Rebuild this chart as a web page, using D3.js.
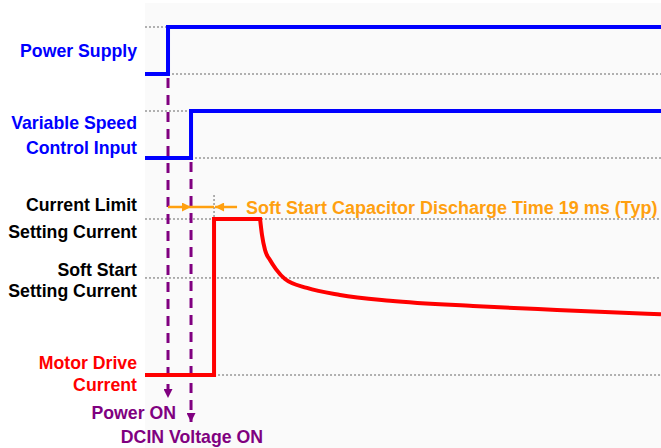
<!DOCTYPE html>
<html>
<head>
<meta charset="utf-8">
<script src="https://cdn.jsdelivr.net/npm/d3@7"></script>
<style>
  body { margin: 0; background: #fff; }
  text { font-family: "Liberation Sans", Arial, sans-serif; font-weight: bold; }
</style>
</head>
<body>
<svg id="canvas" width="661" height="448"></svg>
<script>
// timing chart, time in ms, levels normalised 0 (low) .. 1 (high)
var timeMax = 426;
var powerOnMs = 19;
var dcinOnMs = 38;
var currentOnMs = 57;
var softStartLevel = 0.622;

var powerSupply = [[0, 0], [19, 0], [19, 1], [426, 1]];
var speedInput = [[0, 0], [38, 0], [38, 1], [426, 1]];
var currentStep = [[0, 0], [57, 0], [57, 1], [95, 1]];
var currentDecay = [[95, 1], [96.6, 0.897], [99.1, 0.801], [103.2, 0.737], [108.1, 0.679],
  [115.6, 0.615], [133.7, 0.558], [161, 0.513], [202.3, 0.476], [270.8, 0.442],
  [340.1, 0.417], [426, 0.389]];

var powerLabel = ["Power Supply"];
var speedLabel = ["Variable Speed", "Control Input"];
var limitLabel = ["Current Limit", "Setting Current"];
var softLabel = ["Soft Start", "Setting Current"];
var motorLabel = ["Motor Drive", "Current"];
var eventLabels = ["Power ON", "DCIN Voltage ON"];
var dischargeText = "Soft Start Capacitor Discharge Time 19 ms (Typ)";

var svg = d3.select("#canvas");
var x = d3.scaleLinear().domain([0, timeMax]).range([145, 661]);
var yPower = d3.scaleLinear().domain([0, 1]).range([74, 27]);
var ySpeed = d3.scaleLinear().domain([0, 1]).range([158, 111]);
var yCur = d3.scaleLinear().domain([0, 1]).range([375, 219]);

var BLUE = "#0000ff", RED = "#ff0000", PURPLE = "#800080", ORANGE = "#ffa010";

svg.append("defs").append("marker")
  .attr("id", "purpleHead").attr("viewBox", "0 0 10 10")
  .attr("refX", 10).attr("refY", 5)
  .attr("markerUnits", "userSpaceOnUse")
  .attr("markerWidth", 10).attr("markerHeight", 9)
  .attr("orient", "auto")
  .append("path").attr("d", "M0,0 L10,5 L0,10 Z").attr("fill", PURPLE);

svg.select("defs").append("marker")
  .attr("id", "orangeHead").attr("viewBox", "0 0 10 10")
  .attr("refX", 10).attr("refY", 5)
  .attr("markerUnits", "userSpaceOnUse")
  .attr("markerWidth", 13).attr("markerHeight", 9)
  .attr("orient", "auto")
  .append("path").attr("d", "M0,0 L10,5 L0,10 Z").attr("fill", ORANGE);

// plot background
svg.append("rect").attr("x", x(0)).attr("y", 3)
  .attr("width", x(timeMax) - x(0)).attr("height", 445).attr("fill", "#fafafa");

// dotted reference levels
var dotted = [
  [x(0), x(powerOnMs), yPower(1)],
  [x(powerOnMs), x(timeMax), yPower(0)],
  [x(0), x(dcinOnMs), ySpeed(1)],
  [x(dcinOnMs), x(timeMax), ySpeed(0)],
  [x(0), x(timeMax), yCur(1)],
  [x(0), x(timeMax), yCur(softStartLevel)],
  [x(currentOnMs), x(timeMax), yCur(0)]
];
svg.selectAll(".ref").data(dotted).enter().append("line")
  .attr("class", "ref")
  .attr("x1", function(d) { return d[0]; }).attr("x2", function(d) { return d[1]; })
  .attr("y1", function(d) { return d[2]; }).attr("y2", function(d) { return d[2]; })
  .attr("stroke", "#666").attr("stroke-width", 1).attr("stroke-dasharray", "2,2");

svg.append("line")
  .attr("x1", x(currentOnMs)).attr("x2", x(currentOnMs))
  .attr("y1", 195).attr("y2", yCur(1))
  .attr("stroke", "#666").attr("stroke-width", 1).attr("stroke-dasharray", "2,2");

// purple event markers
var events = [[powerOnMs, yPower(0) + 4, 398], [dcinOnMs, ySpeed(0) + 4, 422]];
svg.selectAll(".evt").data(events).enter().append("line")
  .attr("class", "evt")
  .attr("x1", function(d) { return x(d[0]); }).attr("x2", function(d) { return x(d[0]); })
  .attr("y1", function(d) { return d[1]; }).attr("y2", function(d) { return d[2]; })
  .attr("stroke", PURPLE).attr("stroke-width", 3).attr("stroke-dasharray", "10,7")
  .attr("marker-end", "url(#purpleHead)");

// signals
function stepLine(y) {
  return d3.line().x(function(d) { return x(d[0]); }).y(function(d) { return y(d[1]); });
}
svg.append("path").attr("d", stepLine(yPower)(powerSupply))
  .attr("fill", "none").attr("stroke", BLUE).attr("stroke-width", 4);
svg.append("path").attr("d", stepLine(ySpeed)(speedInput))
  .attr("fill", "none").attr("stroke", BLUE).attr("stroke-width", 4);

var decay = d3.line().curve(d3.curveMonotoneX)
  .x(function(d) { return x(d[0]); }).y(function(d) { return yCur(d[1]); });
svg.append("path")
  .attr("d", stepLine(yCur)(currentStep) + decay(currentDecay).replace(/^M/, "L"))
  .attr("fill", "none").attr("stroke", RED).attr("stroke-width", 4)
  .attr("stroke-linejoin", "miter");

// discharge time dimension
var ay = 207;
svg.append("line").attr("x1", x(powerOnMs)).attr("x2", x(dcinOnMs))
  .attr("y1", ay).attr("y2", ay)
  .attr("stroke", ORANGE).attr("stroke-width", 2.5).attr("marker-end", "url(#orangeHead)");
svg.append("line").attr("x1", x(dcinOnMs)).attr("x2", x(currentOnMs))
  .attr("y1", ay).attr("y2", ay)
  .attr("stroke", ORANGE).attr("stroke-width", 2.5);
svg.append("line").attr("x1", x(currentOnMs) + 23).attr("x2", x(currentOnMs) + 1)
  .attr("y1", ay).attr("y2", ay)
  .attr("stroke", ORANGE).attr("stroke-width", 2.5).attr("marker-end", "url(#orangeHead)");
svg.append("text").attr("x", 246).attr("y", 214)
  .attr("fill", ORANGE).style("font-size", "18px").text(dischargeText);

// left labels
function label(lines, ys, color) {
  lines.forEach(function(t, i) {
    svg.append("text").attr("x", 137).attr("y", ys[i])
      .attr("text-anchor", "end").attr("fill", color)
      .style("font-size", "17.7px").text(t);
  });
}
label(powerLabel, [yPower(0.5) + 6.5], BLUE);
label(speedLabel, [ySpeed(0.5) - 6, ySpeed(0.5) + 19], BLUE);
label(limitLabel, [yCur(1) - 8, yCur(1) + 19], "#000");
label(softLabel, [yCur(softStartLevel) - 2, yCur(softStartLevel) + 19], "#000");
label(motorLabel, [yCur(0) - 6, yCur(0) + 16], RED);

svg.append("text").attr("x", x(powerOnMs) + 8).attr("y", 419)
  .attr("text-anchor", "end").attr("fill", PURPLE)
  .style("font-size", "17.7px").text(eventLabels[0]);
svg.append("text").attr("x", x(dcinOnMs) + 72).attr("y", 443)
  .attr("text-anchor", "end").attr("fill", PURPLE)
  .style("font-size", "17.7px").text(eventLabels[1]);
</script>
</body>
</html>
